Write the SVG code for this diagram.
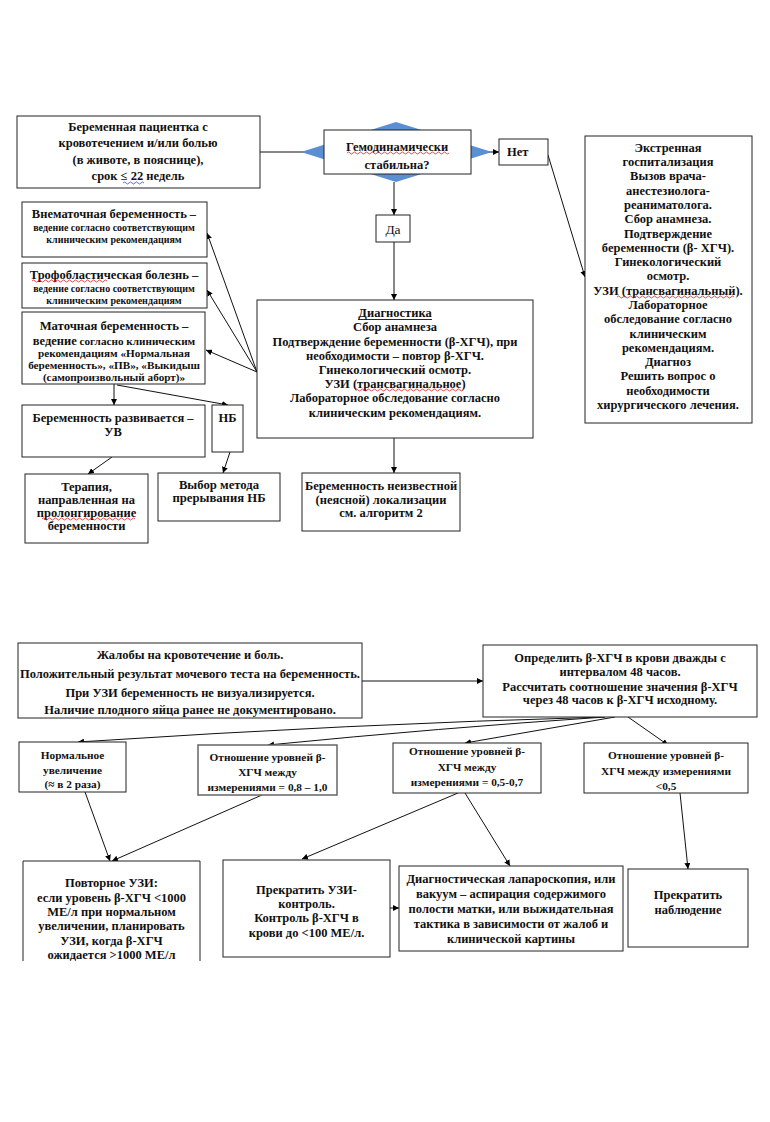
<svg xmlns="http://www.w3.org/2000/svg" width="770" height="1122" viewBox="0 0 770 1122">
<defs>
<marker id="ah" viewBox="0 0 10 10" refX="10" refY="5" markerWidth="6" markerHeight="6" orient="auto" markerUnits="userSpaceOnUse">
<path d="M0,0 L10,5 L0,10 z" fill="#000"/>
</marker>
<clipPath id="clipBottom"><rect x="0" y="0" width="770" height="961"/></clipPath>
</defs>
<style>
.bx{fill:#fff;stroke:#222;stroke-width:1}
text{font-family:"Liberation Serif","Times New Roman",serif;font-weight:bold;fill:#111;text-anchor:middle}
.s11{font-size:12.5px}
.s115{font-size:12.5px}
.s12{font-size:12.7px}
.s10{font-size:11.2px}
.s9{font-size:10px}
.n{font-size:11.3px}
.c line,.c path{stroke:#111;stroke-width:1;fill:none;marker-end:url(#ah)}
.sq{stroke:#e02020;stroke-width:0.8;fill:none}
</style>
<rect width="770" height="1122" fill="#fff"/>

<g id="connectors" class="c">
<line x1="260" y1="152" x2="324" y2="152"/>
<line x1="471" y1="152" x2="499" y2="152"/>
<line x1="548" y1="155" x2="585" y2="277"/>
<line x1="394" y1="182" x2="394" y2="215"/>
<line x1="394" y1="242" x2="394" y2="300"/>
<line x1="394" y1="438" x2="394" y2="473"/>
<line x1="257" y1="372" x2="207" y2="233"/>
<line x1="257" y1="372" x2="207" y2="290"/>
<line x1="257" y1="372" x2="206" y2="350"/>
<line x1="114" y1="384" x2="114" y2="405"/>
<line x1="117" y1="385" x2="228" y2="405"/>
<line x1="112" y1="457" x2="88" y2="474"/>
<line x1="230" y1="452" x2="223" y2="473"/>
<line x1="362" y1="681" x2="483" y2="681"/>
<path d="M605,717 Q350,724 78,742"/>
<path d="M605,717 Q440,728 268,745"/>
<line x1="615" y1="717" x2="465" y2="743"/>
<line x1="628" y1="717" x2="668" y2="745"/>
<line x1="85" y1="792" x2="110" y2="861"/>
<line x1="262" y1="795" x2="112" y2="861"/>
<line x1="458" y1="793" x2="302" y2="859"/>
<line x1="465" y1="793" x2="510" y2="866"/>
<line x1="680" y1="793" x2="688" y2="869"/>
<line x1="390" y1="908" x2="399" y2="908"/>
</g>

<g id="n_patient">
<rect class="bx" x="17" y="116" width="243" height="72"/>
<text class="s115" x="138" y="131">Беременная пациентка с</text>
<text class="s115" x="138" y="147">кровотечением и/или болью</text>
<text class="s115" x="138" y="164">(в животе, в пояснице),</text>
<text class="s115" x="138" y="180">срок ≤ 22 недель</text>
<path d="M123,183 q1.5,-2 3,0 t3,0 t3,0 t3,0 t3,0 t3,0 t3,0" stroke="#3050c0" stroke-width="0.8" fill="none"/>
</g>

<g id="n_decision">
<polygon points="396,122 492,152 396,182 301,152" fill="#5a8fd3"/>
<rect class="bx" x="324" y="130" width="147" height="44"/>
<text class="s11" x="397" y="151">Гемодинамически</text>
<path class="sq" d="M347,153 q1.5,-2 3,0 t3,0 t3,0 t3,0 t3,0 t3,0 t3,0 t3,0 t3,0 t3,0 t3,0 t3,0 t3,0 t3,0 t3,0 t3,0 t3,0 t3,0 t3,0 t3,0 t3,0 t3,0 t3,0 t3,0 t3,0 t3,0 t3,0 t3,0 t3,0 t3,0 t3,0 t3,0 t3,0 t3,0"/>
<text class="s11" x="397" y="169">стабильна?</text>
</g>

<g id="n_no">
<rect class="bx" x="499" y="139" width="49" height="26"/>
<text class="s11" x="507" y="156" style="text-anchor:start">Нет</text>
</g>

<g id="n_emergency">
<rect class="bx" x="585" y="136" width="167" height="287"/>
<text class="s11" x="668" y="152">Экстренная</text>
<text class="s11" x="668" y="166">госпитализация</text>
<text class="s11" x="668" y="180">Вызов врача-</text>
<text class="s11" x="668" y="195">анестезиолога-</text>
<text class="s11" x="668" y="209">реаниматолога.</text>
<text class="s11" x="668" y="223">Сбор анамнеза.</text>
<text class="s11" x="668" y="238">Подтверждение</text>
<text class="s11" x="668" y="252">беременности (β- ХГЧ).</text>
<text class="s11" x="668" y="266">Гинекологический</text>
<text class="s11" x="668" y="280">осмотр.</text>
<text class="s11" x="668" y="295">УЗИ (трансвагинальный).</text>
<path class="sq" d="M617,297 q1.5,-2 3,0 t3,0 t3,0 t3,0 t3,0 t3,0 t3,0 t3,0 t3,0 t3,0 t3,0 t3,0 t3,0 t3,0 t3,0 t3,0 t3,0 t3,0 t3,0 t3,0 t3,0 t3,0 t3,0 t3,0 t3,0 t3,0 t3,0 t3,0 t3,0 t3,0 t3,0 t3,0 t3,0 t3,0 t3,0 t3,0 t3,0 t3,0 t3,0"/>
<text class="s11" x="668" y="309">Лабораторное</text>
<text class="s11" x="668" y="323">обследование согласно</text>
<text class="s11" x="668" y="338">клиническим</text>
<text class="s11" x="668" y="352">рекомендациям.</text>
<text class="s11" x="668" y="366">Диагноз</text>
<text class="s11" x="668" y="380">Решить вопрос о</text>
<text class="s11" x="668" y="395">необходимости</text>
<text class="s11" x="668" y="409">хирургического лечения.</text>
</g>

<g id="n_yes">
<rect class="bx" x="376" y="215" width="34" height="27"/>
<text x="393" y="234" style="font-weight:normal;font-size:13.5px">Да</text>
</g>

<g id="n_diag">
<rect class="bx" x="257" y="300" width="276" height="138"/>
<text class="s11" x="395" y="317">Диагностика</text>
<line x1="358" y1="319.5" x2="432" y2="319.5" stroke="#111" stroke-width="0.9"/>
<text class="s11" x="395" y="331">Сбор анамнеза</text>
<text class="s11" x="395" y="345.5">Подтверждение беременности (β-ХГЧ), при</text>
<text class="s11" x="395" y="359.5">необходимости – повтор β-ХГЧ.</text>
<text class="s11" x="395" y="374">Гинекологический осмотр.</text>
<text class="s11" x="395" y="388">УЗИ (трансвагинальное)</text>
<path class="sq" d="M355,390 q1.5,-2 3,0 t3,0 t3,0 t3,0 t3,0 t3,0 t3,0 t3,0 t3,0 t3,0 t3,0 t3,0 t3,0 t3,0 t3,0 t3,0 t3,0 t3,0 t3,0 t3,0 t3,0 t3,0 t3,0 t3,0 t3,0 t3,0 t3,0 t3,0 t3,0 t3,0 t3,0 t3,0 t3,0 t3,0 t3,0 t3,0"/>
<text class="s11" x="395" y="402">Лабораторное обследование согласно</text>
<text class="s11" x="395" y="416.5">клиническим рекомендациям.</text>
</g>

<g id="n_unknown">
<rect class="bx" x="302" y="473" width="158" height="58"/>
<text class="s11" x="381" y="490">Беременность неизвестной</text>
<text class="s11" x="381" y="504">(неясной) локализации</text>
<text class="s11" x="381" y="517">см. алгоритм 2</text>
</g>

<g id="n_ectopic">
<rect class="bx" x="22" y="202" width="185" height="55"/>
<text class="s115" x="114" y="218">Внематочная беременность –</text>
<text class="s9" x="114" y="231">ведение согласно соответствующим</text>
<text class="s9" x="114" y="243">клиническим рекомендациям</text>
</g>

<g id="n_troph">
<rect class="bx" x="22" y="263" width="185" height="45"/>
<text x="114" y="279"><tspan class="s115">Трофобластическая болезнь –</tspan></text>
<path class="sq" d="M32,281 q1.5,-2 3,0 t3,0 t3,0 t3,0 t3,0 t3,0 t3,0 t3,0 t3,0 t3,0 t3,0 t3,0 t3,0 t3,0 t3,0 t3,0 t3,0 t3,0 t3,0 t3,0 t3,0 t3,0 t3,0 t3,0 t3,0"/>
<text class="s9" x="114" y="292">ведение согласно соответствующим</text>
<text class="s9" x="114" y="304">клиническим рекомендациям</text>
</g>

<g id="n_uterine">
<rect class="bx" x="22" y="312" width="183" height="72"/>
<text class="s12" x="114" y="330">Маточная беременность –</text>
<text x="114" y="345"><tspan class="s115">ведение</tspan><tspan class="s10"> согласно клиническим</tspan></text>
<text class="s10" x="114" y="357">рекомендациям «Нормальная</text>
<text class="s10" x="114" y="369">беременность», «ПВ», «Выкидыш</text>
<text class="s10" x="114" y="381">(самопроизвольный аборт)»</text>
</g>

<g id="n_develop">
<rect class="bx" x="22" y="405" width="183" height="52"/>
<text class="s11" x="113" y="422">Беременность развивается –</text>
<text class="s11" x="113" y="436">УВ</text>
</g>

<g id="n_nb">
<rect class="bx" x="212" y="405" width="31" height="47"/>
<text class="s11" x="227.5" y="422">НБ</text>
</g>

<g id="n_therapy">
<rect class="bx" x="25" y="474" width="123" height="69"/>
<text class="s115" x="86.5" y="491">Терапия,</text>
<text class="s115" x="86.5" y="504">направленная на</text>
<text class="s115" x="86.5" y="517">пролонгирование</text>
<path class="sq" d="M42,519 q1.5,-2 3,0 t3,0 t3,0 t3,0 t3,0 t3,0 t3,0 t3,0 t3,0 t3,0 t3,0 t3,0 t3,0 t3,0 t3,0 t3,0 t3,0 t3,0 t3,0 t3,0 t3,0 t3,0 t3,0 t3,0 t3,0 t3,0 t3,0 t3,0 t3,0 t3,0 t3,0"/>
<text class="s115" x="86.5" y="530">беременности</text>
</g>

<g id="n_method">
<rect class="bx" x="158" y="473" width="122" height="48"/>
<text class="s12" x="219" y="489">Выбор метода</text>
<text class="s12" x="219" y="502">прерывания НБ</text>
</g>

<g id="n_complaints">
<rect class="bx" x="18" y="643" width="344" height="75"/>
<text class="s11" x="190" y="659">Жалобы на кровотечение и боль.</text>
<text class="s11" x="190" y="678">Положительный результат мочевого теста на беременность.</text>
<text class="s11" x="190" y="696.5">При УЗИ беременность не визуализируется.</text>
<text class="s11" x="190" y="714">Наличие плодного яйца ранее не документировано.</text>
</g>

<g id="n_determine">
<rect class="bx" x="483" y="645" width="274" height="72"/>
<text class="s11" x="620" y="662">Определить β-ХГЧ в крови дважды с</text>
<text class="s11" x="620" y="676">интервалом 48 часов.</text>
<text class="s11" x="620" y="691">Рассчитать соотношение значения β-ХГЧ</text>
<text class="s11" x="620" y="704">через 48 часов к β-ХГЧ исходному.</text>
</g>

<g id="n_normal">
<rect class="bx" x="19" y="742" width="107" height="50"/>
<text class="n" x="72.5" y="759">Нормальное</text>
<text class="n" x="72.5" y="774">увеличение</text>
<text class="n" x="72.5" y="788">(≈ в 2 раза)</text>
</g>

<g id="n_r08">
<rect class="bx" x="198" y="745" width="139" height="50" style="stroke:#666;stroke-width:1.5"/>
<text class="n" x="267.5" y="761">Отношение уровней β-</text>
<text class="n" x="267.5" y="776">ХГЧ между</text>
<text class="n" x="267.5" y="791">измерениями = 0,8 – 1,0</text>
</g>

<g id="n_r05">
<rect class="bx" x="393" y="743" width="148" height="50"/>
<text class="n" x="467" y="755">Отношение уровней β-</text>
<text class="n" x="467" y="771">ХГЧ между</text>
<text class="n" x="467" y="786">измерениями = 0,5-0,7</text>
</g>

<g id="n_rlt">
<rect class="bx" x="584" y="743" width="164" height="50"/>
<text class="n" x="666" y="759">Отношение уровней β-</text>
<text class="n" x="666" y="775">ХГЧ между измерениями</text>
<text class="n" x="666" y="790">&lt;0,5</text>
</g>

<g id="n_repeat" clip-path="url(#clipBottom)">
<path d="M23,975 V861 H200 V975" fill="#fff" stroke="#222" stroke-width="1"/>
<text class="s11" x="111.5" y="887">Повторное УЗИ:</text>
<text class="s11" x="111.5" y="901.5">если уровень β-ХГЧ &lt;1000</text>
<text class="s11" x="111.5" y="916">МЕ/л при нормальном</text>
<text class="s11" x="111.5" y="930">увеличении, планировать</text>
<text class="s11" x="111.5" y="944.5">УЗИ, когда β-ХГЧ</text>
<text class="s11" x="111.5" y="959">ожидается &gt;1000 МЕ/л</text>
</g>

<g id="n_stopus">
<rect class="bx" x="223" y="860" width="167" height="97"/>
<text class="s11" x="306.5" y="894">Прекратить УЗИ-</text>
<text class="s11" x="306.5" y="908">контроль.</text>
<text class="s11" x="306.5" y="922">Контроль β-ХГЧ в</text>
<text class="s11" x="306.5" y="937">крови до &lt;100 МЕ/л.</text>
</g>

<g id="n_lapar">
<rect class="bx" x="399" y="866" width="224" height="85"/>
<text class="s11" x="511" y="883">Диагностическая лапароскопия, или</text>
<text class="s11" x="511" y="898">вакуум – аспирация содержимого</text>
<text class="s11" x="511" y="913">полости матки, или выжидательная</text>
<text class="s11" x="511" y="928">тактика в зависимости от жалоб и</text>
<text class="s11" x="511" y="943">клинической картины</text>
</g>

<g id="n_stopobs">
<rect class="bx" x="628" y="869" width="120" height="78"/>
<text class="s11" x="688" y="899">Прекратить</text>
<text class="s11" x="688" y="914">наблюдение</text>
</g>
</svg>
